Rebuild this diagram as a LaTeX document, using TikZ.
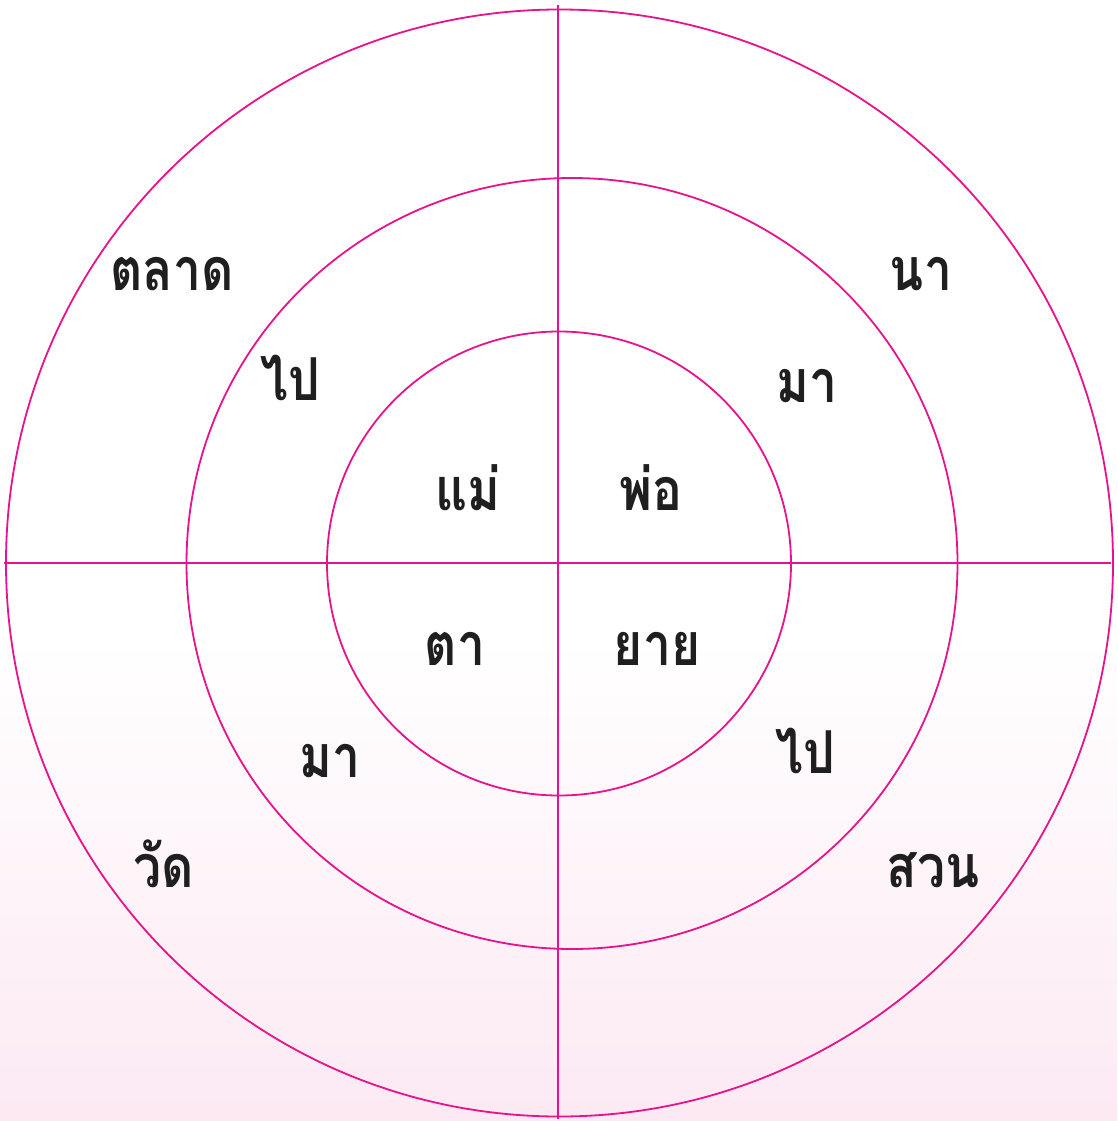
\documentclass[tikz,border=0pt]{standalone}
\usepackage{fontspec}
\newfontfamily\thaifont[Script=Thai]{Loma}
\definecolor{mag}{RGB}{232,18,140}
\definecolor{pinkbg}{RGB}{252,233,243}
\newcommand{\thw}[1]{\scalebox{0.86}[1.02]{#1}}
\tikzset{
  ring/.style={draw=mag, line width=1.8pt},
  axis/.style={draw=mag, line width=1.8pt},
  word/.style={font=\thaifont\bfseries\fontsize{58}{60}\selectfont, text=black!88, inner sep=0pt, anchor=base}
}
\begin{document}
\begin{tikzpicture}[x=1pt,y=-1pt]
\useasboundingbox (0,0) rectangle (1117,1121);
\fill[white] (0,0) rectangle (1117,1121);
\shade[top color=white, bottom color=pinkbg] (0,640) rectangle (1117,1121);
\coordinate (c) at (559.5,563);
\coordinate (cm) at (572,563.5);
\draw[ring] (c) circle[radius=553.5];
\draw[ring] (cm) circle[radius=385.5];
\draw[ring] (559,563.5) circle[radius=232];
\coordinate (l) at (4,563);
\coordinate (r) at (1111,563);
\coordinate (t) at (558,5);
\coordinate (b) at (558,1119);
\draw[axis] (l) -- (r);
\draw[axis] (t) -- (b);
\node[word] (w1) at (172,290) {\thw{ตลาด}};
\node[word] (w2) at (921,290) {\thw{นา}};
\node[word] (w3) at (290,400) {\thw{ไป}};
\node[word] (w4) at (807,402) {\thw{มา}};
\node[word] (w5) at (468,510) {\thw{แม่}};
\node[word] (w6) at (651,510) {\thw{พ่อ}};
\node[word] (w7) at (455,665) {\thw{ตา}};
\node[word] (w8) at (657,665) {\thw{ยาย}};
\node[word] (w9) at (330,777) {\thw{มา}};
\node[word] (w10) at (805,773) {\thw{ไป}};
\node[word] (w11) at (164,887) {\thw{วัด}};
\node[word] (w12) at (933,887) {\thw{สวน}};
\end{tikzpicture}
\end{document}
